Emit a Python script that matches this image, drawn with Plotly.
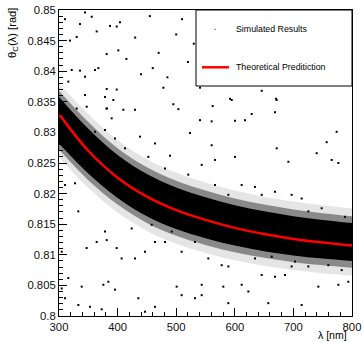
import plotly.graph_objects as go

# wavelength grid (nm)
lam = [300, 350, 400, 450, 500, 550, 600, 650, 700, 750, 800]
# theoretical Cherenkov angle (rad)
theory = [0.8330, 0.8270, 0.8226, 0.8195, 0.8173, 0.8157, 0.8144, 0.8134, 0.8126, 0.8120, 0.8115]
# dense core of the simulated cloud (upper / lower edge)
core_hi = [0.8358, 0.8306, 0.8263, 0.8232, 0.8210, 0.8194, 0.8181, 0.8171, 0.8163, 0.8157, 0.8152]
core_lo = [0.8282, 0.8233, 0.8193, 0.8163, 0.8142, 0.8127, 0.8115, 0.8106, 0.8099, 0.8094, 0.8090]
# speckled inner fringe of the cloud
fringe_hi = [0.8368, 0.8317, 0.8274, 0.8243, 0.8221, 0.8205, 0.8192, 0.8182, 0.8174, 0.8168, 0.8163]
fringe_lo = [0.8272, 0.8222, 0.8182, 0.8152, 0.8131, 0.8116, 0.8104, 0.8095, 0.8088, 0.8083, 0.8079]
# sparse outer fringe of the cloud
halo_hi = [0.8380, 0.8330, 0.8287, 0.8256, 0.8234, 0.8218, 0.8205, 0.8195, 0.8187, 0.8181, 0.8176]
halo_lo = [0.8260, 0.8209, 0.8169, 0.8139, 0.8118, 0.8103, 0.8091, 0.8082, 0.8075, 0.8070, 0.8066]

# isolated simulated points
out_lam = [381.4, 478.1, 645.9, 344.4, 594.7, 671.5, 381.4, 409.8, 429.7, 495.1, 503.7, 668.6, 628.8,
           617.4, 600.4, 540.6, 560.5, 378.5, 389.9, 438.2, 523.6, 463.8, 560.5, 671.5, 756.8, 773.8,
           739.7, 765.3, 776.7, 489.4, 543.5, 566.2, 600.4, 691.4, 634.5, 668.6, 697.0, 714.1, 611.7,
           589.0,
           327.3, 378.5, 381.4, 364.3, 398.4, 347.2, 333.0, 310.3, 304.6, 315.9, 304.6, 310.3, 338.7,
           384.2, 375.7, 395.6, 406.9, 429.7, 446.8, 463.8, 480.9, 509.3, 543.5, 554.8, 577.6, 589.0,
           580.4, 589.0, 611.7, 623.1, 645.9, 657.2, 685.7, 697.0, 714.1, 742.6, 776.7, 793.7, 500.8,
           509.3, 532.1, 463.8, 435.4, 333.0, 352.9, 372.8, 446.8, 543.5, 668.6,
           702.7, 725.5, 759.6, 782.4, 634.5, 663.0, 532.1, 492.3, 424.0, 458.2,
           566.2, 645.9, 725.5, 748.2, 788.1, 520.7, 480.9, 452.5, 412.6, 395.6, 361.5,
           344.4, 355.8, 310.2, 335.8, 330.2, 364.3, 387.0, 398.5, 318.8, 381.4, 401.2, 321.7, 335.8,
           361.4, 367.1, 344.4, 315.9, 378.5, 398.5, 392.7, 330.2, 347.3, 381.4,
           404.0, 430.0, 455.0, 470.0, 500.0, 520.0, 440.0, 485.0, 415.0, 510.0, 460.0, 530.0,
           540.6, 591.8, 670.3, 562.3]
out_theta = [0.8371, 0.8373, 0.8368, 0.8361, 0.8353, 0.8353, 0.8339, 0.8337, 0.8337, 0.8346, 0.8338,
             0.8333, 0.8330, 0.8320, 0.8319, 0.8320, 0.8318, 0.8304, 0.8323, 0.8293, 0.8299, 0.8282,
             0.8279, 0.8274, 0.8284, 0.8301, 0.8266, 0.8255, 0.8250, 0.8262, 0.8247, 0.8255, 0.8260,
             0.8252, 0.8211, 0.8203, 0.8198, 0.8192, 0.8214, 0.8198,
             0.8217, 0.8138, 0.8124, 0.8121, 0.8111, 0.8111, 0.8171, 0.8214, 0.8105, 0.8062, 0.8045,
             0.8029, 0.8048, 0.8056, 0.8051, 0.8043, 0.8094, 0.8094, 0.8105, 0.8121, 0.8121, 0.8105,
             0.8051, 0.8094, 0.8083, 0.8081, 0.8048, 0.8021, 0.8051, 0.8040, 0.8067, 0.8021, 0.8067,
             0.8081, 0.8018, 0.8048, 0.8051, 0.8056, 0.8048, 0.8034, 0.8029, 0.8015, 0.8029, 0.8018,
             0.8015, 0.8011, 0.8007, 0.8034, 0.8064,
             0.8089, 0.8081, 0.8083, 0.8075, 0.8094, 0.8097, 0.8121, 0.8138, 0.8143, 0.8149,
             0.8214, 0.8198, 0.8171, 0.8176, 0.8162, 0.8231, 0.8241, 0.8260, 0.8274, 0.8290, 0.8301,
             0.8496, 0.8489, 0.8485, 0.8477, 0.8456, 0.8465, 0.8474, 0.8473, 0.8450, 0.8428, 0.8434,
             0.8402, 0.8401, 0.8402, 0.8405, 0.8391, 0.8383, 0.8358, 0.8370, 0.8353, 0.8339, 0.8342,
             0.8339,
             0.8480, 0.8455, 0.8490, 0.8430, 0.8460, 0.8415, 0.8395, 0.8390, 0.8420, 0.8485, 0.8405,
             0.8445,
             0.8373, 0.8355, 0.8355, 0.8343]

x_ticks = [300, 400, 500, 600, 700, 800]
y_ticks = [0.80, 0.805, 0.81, 0.815, 0.82, 0.825, 0.83, 0.835, 0.84, 0.845, 0.85]
y_ticktext = ["0.8", "0.805", "0.81", "0.815", "0.82", "0.825", "0.83", "0.835", "0.84", "0.845", "0.85"]

FONT = "Liberation Sans, Arial, Helvetica, sans-serif"

fig = go.Figure()


def band(lo, hi, color):
    fig.add_trace(go.Scatter(x=lam, y=lo, mode="lines", line=dict(width=0, shape="spline"),
                             showlegend=False, hoverinfo="skip"))
    fig.add_trace(go.Scatter(x=lam, y=hi, mode="lines", line=dict(width=0, shape="spline"),
                             fill="tonexty", fillcolor=color, showlegend=False, hoverinfo="skip"))


band(halo_lo, halo_hi, "rgba(0,0,0,0.10)")
band(fringe_lo, fringe_hi, "rgba(0,0,0,0.40)")
band(core_lo, core_hi, "black")

# outliers
fig.add_trace(go.Scatter(x=out_lam, y=out_theta, mode="markers",
                         marker=dict(symbol="square", size=2, color="black", line=dict(width=0)),
                         name="Simulated Results", showlegend=False))
# theory
fig.add_trace(go.Scatter(x=lam, y=theory, mode="lines", line=dict(color="red", width=2.5, shape="spline"),
                         name="Theoretical Prediction", showlegend=False))

# legend box (ROOT style)
lx0 = (196 - 59) / 293
ly0 = (316 - 86) / 306
fig.add_shape(type="rect", xref="paper", yref="paper", x0=lx0, x1=1.0, y0=ly0, y1=1.0,
              line=dict(color="black", width=1), fillcolor="white", layer="above")
fig.add_shape(type="rect", xref="paper", yref="paper",
              x0=(214.5 - 59) / 293, x1=(215.5 - 59) / 293,
              y0=(316 - 29.8) / 306, y1=(316 - 28.8) / 306,
              line=dict(width=0), fillcolor="black", layer="above")
fig.add_shape(type="line", xref="paper", yref="paper",
              x0=(202 - 59) / 293, x1=(229 - 59) / 293,
              y0=(316 - 67.3) / 306, y1=(316 - 67.3) / 306,
              line=dict(color="red", width=2.5), layer="above")
fig.add_annotation(text="Simulated Results", xref="paper", yref="paper",
                   x=(234 - 59) / 293, y=(316 - 29.3) / 306, xanchor="left", yanchor="middle",
                   showarrow=False, font=dict(family=FONT, size=8.8, color="black"))
fig.add_annotation(text="Theoretical Preditiction", xref="paper", yref="paper",
                   x=(234 - 59) / 293, y=(316 - 67.3) / 306, xanchor="left", yanchor="middle",
                   showarrow=False, font=dict(family=FONT, size=8.8, color="black"))

# axis titles
fig.add_annotation(text="θ<sub>C</sub>(λ) [rad]", xref="paper", yref="paper",
                   x=(13 - 59) / 293, y=(316 - 6) / 306, xanchor="center", yanchor="top",
                   textangle=-90, showarrow=False, font=dict(family=FONT, size=11.2, color="black"))
fig.add_annotation(text="λ [nm]", xref="paper", yref="paper",
                   x=(349 - 59) / 293, y=(316 - 334.5) / 306, xanchor="right", yanchor="middle",
                   showarrow=False, font=dict(family=FONT, size=10.5, color="black"))

axis_common = dict(showgrid=False, zeroline=False, showline=True, linecolor="black", linewidth=1,
                   mirror=True, ticks="inside", tickcolor="black", tickwidth=1, ticklen=8,
                   automargin=False,
                   tickfont=dict(family=FONT, size=11.3, color="#111"),
                   minor=dict(ticks="inside", ticklen=4, tickcolor="black", tickwidth=1))

fig.update_xaxes(range=[300, 800], tickvals=x_ticks, ticktext=[str(v) for v in x_ticks],
                 minor_dtick=20, **axis_common)
fig.update_yaxes(range=[0.8, 0.85], tickvals=y_ticks, ticktext=y_ticktext,
                 minor_dtick=0.001, **axis_common)

fig.update_layout(width=363, height=342, margin=dict(l=59, r=11, t=10, b=26),
                  plot_bgcolor="white", paper_bgcolor="white", showlegend=False,
                  font=dict(family=FONT))

fig.write_html("out.html", config={"displayModeBar": False},
               post_script="document.body.style.margin='0px';document.body.style.overflow='hidden';")
